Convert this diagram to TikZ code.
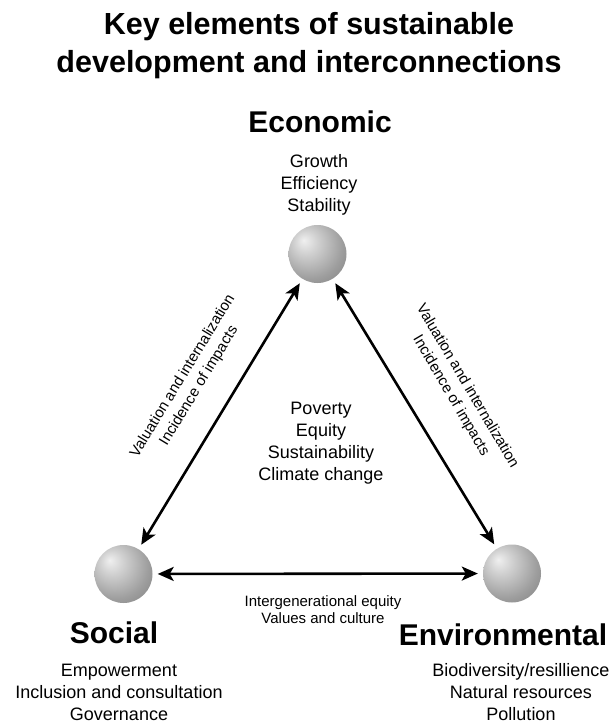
\documentclass[tikz,border=0pt]{standalone}
\usepackage{fontspec}
\setmainfont{Liberation Sans}
\usetikzlibrary{arrows.meta}
\pgfdeclareradialshading{sphereshade}{\pgfpoint{-12bp}{12bp}}{%
  color(0bp)=(black!6);
  color(10bp)=(black!18);
  color(28bp)=(black!38);
  color(48bp)=(black!55);
  color(66bp)=(black!62)}
\tikzset{
  sphere/.style={circle, minimum size=58pt, inner sep=0pt, shading=sphereshade},
  biglabel/.style={font=\fontsize{30}{34}\selectfont\bfseries, inner sep=0pt, anchor=base},
  desc/.style={font=\fontsize{18}{22}\selectfont, align=center, inner sep=0pt},
  edgelabel/.style={font=\fontsize{15}{19}\selectfont, align=center, inner sep=0pt},
  arr/.style={line width=2.6pt, {Stealth[length=16pt,width=14pt,inset=4pt]}-{Stealth[length=16pt,width=14pt,inset=4pt]}, shorten <=5pt, shorten >=5pt},
}
\begin{document}
\begin{tikzpicture}[x=1pt,y=-1pt]
\useasboundingbox (0,0) rectangle (614,722);
% title
\node[font=\fontsize{30.5}{36}\selectfont\bfseries, inner sep=0pt, anchor=base] (t1) at (309,35) {Key elements of sustainable};
\node[font=\fontsize{30.5}{36}\selectfont\bfseries, inner sep=0pt, anchor=base] (t2) at (309,73) {development and interconnections};
% Economic
\node[biglabel] (ecolab) at (320,133) {Economic};
\node[desc] (ecotext) at (319,184.5) {Growth\\Efficiency\\Stability};
\node[sphere] (eco) at (317.5,254) {};
% Social
\node[sphere] (soc) at (123.5,574) {};
\node[biglabel] (soclab) at (114,643) {Social};
\node[desc] (soctext) at (119,692) {Empowerment\\Inclusion and consultation\\Governance};
% Environmental
\node[sphere] (env) at (512,573.5) {};
\node[biglabel] (envlab) at (503,645) {Environmental};
\node[desc] (envtext) at (521,692) {Biodiversity/resillience\\Natural resources\\Pollution};
% centre
\node[desc] (centre) at (321,443.5) {Poverty\\Equity\\Sustainability\\Climate change};
% connectors
\draw[arr] (soc) -- (eco);
\draw[arr] (eco) -- (env);
\draw[arr] (soc) -- (env);
% edge labels
\node[edgelabel, rotate=58.7] (lablft) at (191,381) {Valuation and internalization\\Incidence of impacts};
\node[edgelabel, rotate=-59.5] (labrgt) at (459,391) {Valuation and internalization\\Incidence of impacts};
\node[edgelabel, font=\fontsize{15}{17}\selectfont] (labbot) at (323,609.5) {Intergenerational equity\\Values and culture};
\end{tikzpicture}
\end{document}
